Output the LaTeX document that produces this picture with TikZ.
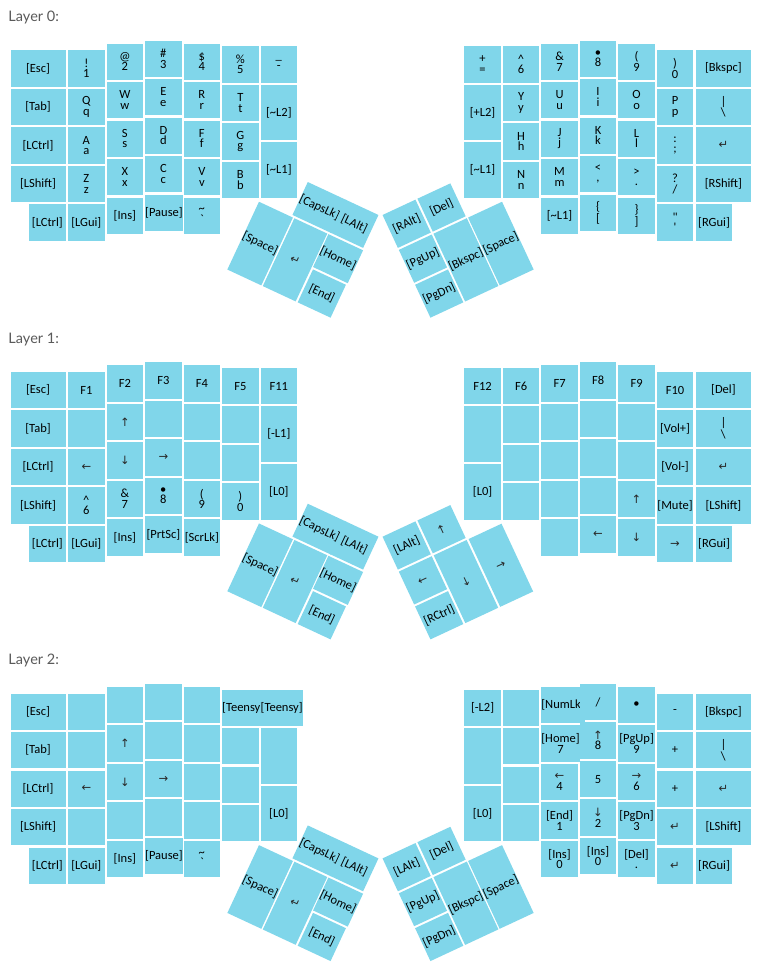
\documentclass[tikz,border=0pt]{standalone}
\usepackage{fontspec}
\setmainfont{Carlito}
\newfontfamily\titlefont{Lato}
\newfontfamily\symfont{DejaVu Sans}
\definecolor{keyc}{RGB}{128,214,234}
\definecolor{titlec}{RGB}{90,90,90}
\definecolor{arrc}{RGB}{40,40,40}
\newcounter{kn}
\newcommand\ar[1]{{\symfont\fontsize{11.5}{10}\selectfont\color{arrc}#1}}
\newcommand\ent{\ar{↵}}
\newcommand\AU{\ar{↑}}
\newcommand\AD{\ar{↓}}
\newcommand\AL{\ar{←}}
\newcommand\AR{\ar{→}}
\newcommand\tld{\textasciitilde\\\textasciigrave}
\tikzset{
  key/.style={fill=keyc, draw=none, inner sep=0pt, minimum width=36.3pt,
    minimum height=36.3pt, align=center, text=black,
    font=\fontsize{12.5}{10.5}\selectfont},
  ttl/.style={anchor=west, inner sep=0pt, text=titlec,
    font=\titlefont\fontsize{14.5}{16}\selectfont}
}
% column of 1u keys: x, ytop, width, labels
\newcommand\kcol[4]{%
  \foreach \lab [count=\ri from 0] in {#4} {%
    \stepcounter{kn}%
    \node[key, minimum width=#3pt, anchor=north west] (k\arabic{kn}) at (#1, {#2+\ri*38.5}) {\lab};
  }}
% single key: x, y, w, h, label
\newcommand\kone[5]{\stepcounter{kn}%
  \node[key, minimum width=#3pt, minimum height=#4pt, anchor=north west] (k\arabic{kn}) at (#1,#2) {#5};}
% thumb key: cx, cy, h, label
\newcommand\tk[4]{\stepcounter{kn}%
  \node[key, minimum height=#3pt] (k\arabic{kn}) at (#1,#2) {#4};}
\newcommand\lthumb[6]{%
  \begin{scope}[shift={(259.5,202)}, rotate=-25, transform shape]
    \tk{56.65}{-20.35}{36.3}{#1}
    \tk{95.15}{-20.35}{36.3}{#2}
    \tk{18.15}{37.4}{74.8}{#3}
    \tk{56.65}{37.4}{74.8}{#4}
    \tk{95.15}{18.15}{36.3}{#5}
    \tk{95.15}{56.65}{36.3}{#6}
  \end{scope}}
\newcommand\rthumb[6]{%
  \begin{scope}[shift={(501.5,202)}, rotate=25, transform shape]
    \tk{-95.15}{-20.35}{36.3}{#1}
    \tk{-56.65}{-20.35}{36.3}{#2}
    \tk{-95.15}{18.15}{36.3}{#3}
    \tk{-95.15}{56.65}{36.3}{#4}
    \tk{-56.65}{37.4}{74.8}{#5}
    \tk{-18.15}{37.4}{74.8}{#6}
  \end{scope}}
\begin{document}
\begin{tikzpicture}[x=1pt,y=-1pt]
\fill[white] (0,0) rectangle (767,969);
\useasboundingbox (0,0) rectangle (767,969);

% ================= Layer 0 =================
\begin{scope}
\node[ttl] (t0) at (8.3,17.5) {Layer 0:};
\kcol{10.3}{50}{55}{{[Esc]},{[Tab]},{[LCtrl]},{[LShift]}}
\kone{29}{204}{36.3}{36.3}{[LCtrl]}
\kcol{68}{50}{36.3}{{!\\1},{Q\\q},{A\\a},{Z\\z},{[LGui]}}
\kcol{106.5}{43.3}{36.3}{{@\\2},{W\\w},{S\\s},{X\\x},{[Ins]}}
\kcol{145}{40.3}{36.3}{{\#\\3},{E\\e},{D\\d},{C\\c},{[Pause]}}
\kcol{183.5}{43.3}{36.3}{{\$\\4},{R\\r},{F\\f},{V\\v},{\tld}}
\kcol{222}{46}{36.3}{{\%\\5},{T\\t},{G\\g},{B\\b}}
\kone{260.5}{46}{36.3}{36.3}{\_\\-}
\kone{260.5}{84.5}{36.3}{55.5}{[\textasciitilde L2]}
\kone{260.5}{142.25}{36.3}{55.5}{[\textasciitilde L1]}
% right
\kone{464.2}{46}{36.3}{36.3}{+\\=}
\kone{464.2}{84.5}{36.3}{55.5}{[+L2]}
\kone{464.2}{142.25}{36.3}{55.5}{[\textasciitilde L1]}
\kcol{502.7}{46}{36.3}{{\textasciicircum\\6},{Y\\y},{H\\h},{N\\n}}
\kcol{541.2}{43.3}{36.3}{{\&\\7},{U\\u},{J\\j},{M\\m},{[\textasciitilde L1]}}
\kcol{579.7}{40.3}{36.3}{{\textbullet\\8},{I\\i},{K\\k},{<\\,},{\{\\{[}}}
\kcol{618.2}{43.3}{36.3}{{(\\9},{O\\o},{L\\l},{>\\.},{\}\\]}}
\kcol{656.7}{50}{36.3}{{)\\0},{P\\p},{:\\;},{?\\/},{\textquotedbl\\\textquotesingle}}
\kcol{695.7}{50}{55}{{[Bkspc]},{|\\\textbackslash},{\ent},{[RShift]}}
\kone{695.7}{204}{36.3}{36.3}{[RGui]}
\lthumb{[CapsLk]}{[LAlt]}{[Space]}{\ent}{[Home]}{[End]}
\rthumb{[RAlt]}{[Del]}{[PgUp]}{[PgDn]}{[Bkspc]}{[Space]}
\end{scope}

% ================= Layer 1 =================
\begin{scope}[shift={(0,321.7)}]
\node[ttl] (t1) at (8.3,17.5) {Layer 1:};
\kcol{10.3}{50}{55}{{[Esc]},{[Tab]},{[LCtrl]},{[LShift]}}
\kone{29}{204}{36.3}{36.3}{[LCtrl]}
\kcol{68}{50}{36.3}{{F1},{},{\AL},{\textasciicircum\\6},{[LGui]}}
\kcol{106.5}{43.3}{36.3}{{F2},{\AU},{\AD},{\&\\7},{[Ins]}}
\kcol{145}{40.3}{36.3}{{F3},{},{\AR},{\textbullet\\8},{[PrtSc]}}
\kcol{183.5}{43.3}{36.3}{{F4},{},{},{(\\9},{[ScrLk]}}
\kcol{222}{46}{36.3}{{F5},{},{},{)\\0}}
\kone{260.5}{46}{36.3}{36.3}{F11}
\kone{260.5}{84.5}{36.3}{55.5}{[-L1]}
\kone{260.5}{142.25}{36.3}{55.5}{[L0]}
% right
\kone{464.2}{46}{36.3}{36.3}{F12}
\kone{464.2}{84.5}{36.3}{55.5}{}
\kone{464.2}{142.25}{36.3}{55.5}{[L0]}
\kcol{502.7}{46}{36.3}{{F6},{},{},{}}
\kcol{541.2}{43.3}{36.3}{{F7},{},{},{},{}}
\kcol{579.7}{40.3}{36.3}{{F8},{},{},{},{\AL}}
\kcol{618.2}{43.3}{36.3}{{F9},{},{},{\AU},{\AD}}
\kcol{656.7}{50}{36.3}{{F10},{[Vol+]},{[Vol-]},{[Mute]},{\AR}}
\kcol{695.7}{50}{55}{{[Del]},{|\\\textbackslash},{\ent},{[LShift]}}
\kone{695.7}{204}{36.3}{36.3}{[RGui]}
\lthumb{[CapsLk]}{[LAlt]}{[Space]}{\ent}{[Home]}{[End]}
\rthumb{[LAlt]}{\AU}{\AL}{[RCtrl]}{\AD}{\AR}
\end{scope}

% ================= Layer 2 =================
\begin{scope}[shift={(0,643.4)}]
\node[ttl] (t2) at (8.3,17.5) {Layer 2:};
\kcol{10.3}{50}{55}{{[Esc]},{[Tab]},{[LCtrl]},{[LShift]}}
\kone{29}{204}{36.3}{36.3}{[LCtrl]}
\kcol{68}{50}{36.3}{{},{},{\AL},{},{[LGui]}}
\kcol{106.5}{43.3}{36.3}{{},{\AU},{\AD},{},{[Ins]}}
\kcol{145}{40.3}{36.3}{{},{},{\AR},{},{[Pause]}}
\kcol{183.5}{43.3}{36.3}{{},{},{},{},{\tld}}
\kcol{222}{46}{36.3}{{[Teensy]},{},{},{}}
\kone{260.5}{46}{36.3}{36.3}{[Teensy]}
\kone{260.5}{84.5}{36.3}{55.5}{}
\kone{260.5}{142.25}{36.3}{55.5}{[L0]}
% right
\kone{464.2}{46}{36.3}{36.3}{[-L2]}
\kone{464.2}{84.5}{36.3}{55.5}{}
\kone{464.2}{142.25}{36.3}{55.5}{[L0]}
\kcol{502.7}{46}{36.3}{{},{},{},{}}
\kcol{541.2}{43.3}{36.3}{{[NumLk]},{[Home]\\7},{\AL\\4},{[End]\\1},{[Ins]\\0}}
\kcol{579.7}{40.3}{36.3}{{/},{\AU\\8},{5},{\AD\\2},{[Ins]\\0}}
\kcol{618.2}{43.3}{36.3}{{\textbullet},{[PgUp]\\9},{\AR\\6},{[PgDn]\\3},{[Del]\\.}}
\kcol{656.7}{50}{36.3}{{-},{+},{+},{\ent},{\ent}}
\kcol{695.7}{50}{55}{{[Bkspc]},{|\\\textbackslash},{\ent},{[LShift]}}
\kone{695.7}{204}{36.3}{36.3}{[RGui]}
\lthumb{[CapsLk]}{[LAlt]}{[Space]}{\ent}{[Home]}{[End]}
\rthumb{[LAlt]}{[Del]}{[PgUp]}{[PgDn]}{[Bkspc]}{[Space]}
\end{scope}
\end{tikzpicture}
\end{document}
